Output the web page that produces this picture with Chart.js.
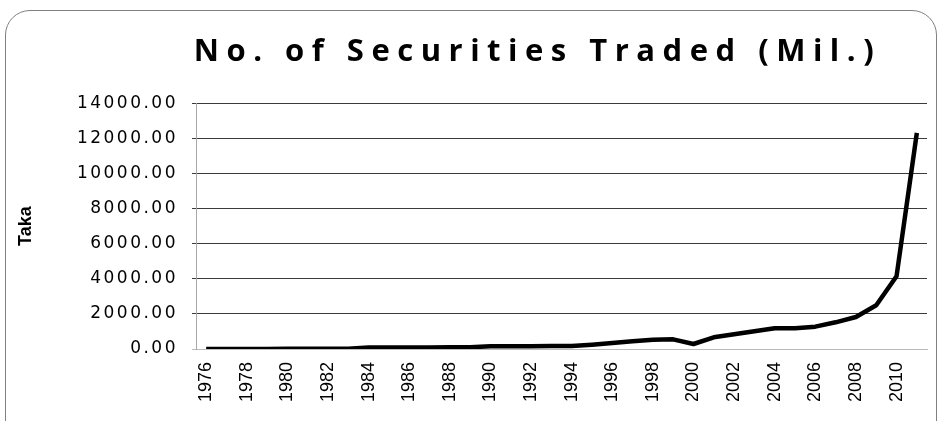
<!DOCTYPE html>
<html>
<head>
<meta charset="utf-8">
<script src="https://cdn.jsdelivr.net/npm/chart.js@4/dist/chart.umd.min.js"></script>
<style>
  html, body { margin: 0; padding: 0; background: #fff; }
  #frame {
    position: absolute; left: 5px; top: 10px;
    width: 930px; height: 440px;
    border: 1px solid #808080; border-radius: 25px;
  }
  #tradeChart { position: absolute; left: 0; top: 0; }
</style>
</head>
<body>
<div id="frame"></div>
<canvas id="tradeChart" width="941" height="421"></canvas>
<script>
const years = ['1976', '1977', '1978', '1979', '1980', '1981', '1982', '1983', '1984', '1985',
  '1986', '1987', '1988', '1989', '1990', '1991', '1992', '1993', '1994', '1995',
  '1996', '1997', '1998', '1999', '2000', '2001', '2002', '2003', '2004', '2005',
  '2006', '2007', '2008', '2009', '2010', '2011'];
const securitiesTraded = [5, 5, 6, 6, 8, 10, 12, 20, 80, 88,
  90, 92, 95, 100, 155, 160, 162, 165, 170, 247,
  342, 437, 532, 550, 285, 665, 836, 1007, 1178, 1180,
  1273, 1520, 1824, 2489, 4142, 12312];
const yTicks = [0, 2000, 4000, 6000, 8000, 10000, 12000, 14000];

// spread out the title letters, and the y labels (drawn after the datasets, z: 1)
const spacingPlugin = {
  id: 'spacing',
  afterInit(chart) {
    const block = chart.titleBlock;
    const draw = block.draw.bind(block);
    block.draw = function() {
      const ctx = chart.ctx;
      ctx.save();
      ctx.letterSpacing = '7.5px';
      ctx.translate(-24, 0);
      draw();
      ctx.restore();
    };
  },
  afterDatasetsDraw(chart) {
    chart.ctx.letterSpacing = '2.5px';
  },
  afterDraw(chart) {
    chart.ctx.letterSpacing = '0px';
  }
};

new Chart(document.getElementById('tradeChart'), {
  type: 'line',
  data: {
    labels: years,
    datasets: [{
      label: 'No. of Securities Traded',
      data: securitiesTraded,
      borderColor: '#000',
      borderWidth: 4.5,
      borderJoinStyle: 'round',
      pointRadius: 0,
      tension: 0,
      clip: { left: 10, right: 10, top: 10, bottom: 0 }
    }]
  },
  options: {
    responsive: false,
    animation: false,
    layout: { padding: { left: 10, right: 14, top: 12, bottom: 0 } },
    plugins: {
      legend: { display: false },
      tooltip: { enabled: false },
      title: {
        display: true,
        text: 'No. of Securities Traded (Mil.)',
        fullSize: false,
        color: '#000',
        font: { family: '"Open Sans"', size: 31, weight: 'bold' },
        padding: { top: 22, bottom: 32 }
      }
    },
    scales: {
      x: {
        offset: true,
        grid: { display: false, drawTicks: false },
        border: { display: true, color: '#bbb', width: 1 },
        ticks: {
          autoSkip: false,
          minRotation: 90,
          maxRotation: 90,
          padding: 13,
          color: '#000',
          font: { family: '"Liberation Sans"', size: 18 },
          callback: (v, i) => i % 2 === 0 ? years[i] : ''
        },
        afterFit: (scale) => {
          scale.height = 72;
          scale.paddingLeft = 0;
          scale.paddingRight = 0;
        }
      },
      y: {
        min: 0,
        max: 14000,
        afterBuildTicks: (scale) => { scale.ticks = yTicks.map(v => ({ value: v })); },
        grid: {
          color: (c) => c.tick && c.tick.value === 0 ? '#bbb' : '#3a3a3a',
          lineWidth: 1,
          tickLength: 4
        },
        border: { display: true, color: '#a8a8a8', width: 1 },
        ticks: {
          z: 1,
          padding: 14,
          color: '#000',
          font: { family: '"DejaVu Sans"', size: 17 },
          callback: (v) => Number(v).toFixed(2)
        },
        title: {
          display: true,
          text: 'Taka',
          color: '#000',
          font: { family: '"Liberation Sans"', size: 18, weight: 'bold' },
          padding: { top: 5, bottom: 0 }
        },
        afterFit: (scale) => { scale.width = 186; }
      }
    }
  },
  plugins: [spacingPlugin]
});
</script>
</body>
</html>
